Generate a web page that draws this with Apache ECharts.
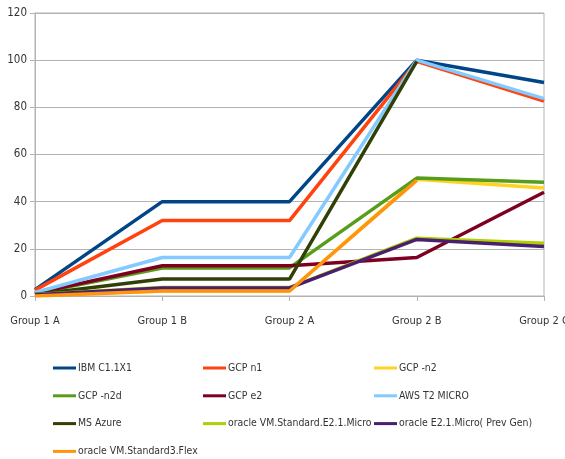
<!DOCTYPE html>
<html>
<head>
<meta charset="utf-8">
<script src="https://cdn.jsdelivr.net/npm/echarts@6/dist/echarts.min.js"></script>
<style>
  html, body { margin: 0; padding: 0; background: #fff; }
  #chart { width: 565px; height: 459px; }
</style>
</head>
<body>
<div id="chart"></div>
<script>
const categories = ['Group 1 A', 'Group 1 B', 'Group 2 A', 'Group 2 B', 'Group 2 C'];

const ibm       = [2.7, 40, 40, 100, 90.5];
const gcpN1     = [2.5, 32, 32, 99.5, 82.7];
const gcpN2     = [0.3, 2.1, 2.1, 49.5, 45.8];
const gcpN2d    = [1, 11.9, 11.9, 50, 48.2];
const gcpE2     = [1.2, 12.8, 12.8, 16.3, 44];
const awsT2     = [1.5, 16.3, 16.3, 100, 83.7];
const msAzure   = [0.6, 7.2, 7.2, 99.5, null];
const oracleE21 = [0.6, 3.6, 3.6, 24.5, 22.4];
const oraclePrev = [0.5, 3.4, 3.4, 24, 21];
const oracleFlex = [0, 2.1, 2.1, 49, null];

const seriesDefs = [
  ['IBM C1.1X1', ibm, '#004586'],
  ['GCP n1', gcpN1, '#ff420e'],
  ['GCP -n2', gcpN2, '#ffd320'],
  ['GCP -n2d', gcpN2d, '#579d1c'],
  ['GCP e2', gcpE2, '#7e0021'],
  ['AWS T2 MICRO', awsT2, '#83caff'],
  ['MS Azure', msAzure, '#314004'],
  ['oracle VM.Standard.E2.1.Micro', oracleE21, '#aecf00'],
  ['oracle E2.1.Micro( Prev Gen)', oraclePrev, '#4b1f6f'],
  ['oracle VM.Standard3.Flex', oracleFlex, '#ff950e']
];

const legendCols = [
  ['IBM C1.1X1', 'GCP -n2d', 'MS Azure', 'oracle VM.Standard3.Flex'],
  ['GCP n1', 'GCP e2', 'oracle VM.Standard.E2.1.Micro'],
  ['GCP -n2', 'AWS T2 MICRO', 'oracle E2.1.Micro( Prev Gen)']
];
const legendLeft = [53, 203, 374];

const font = '"Liberation Sans Narrow", "DejaVu Sans Condensed", "Liberation Sans", sans-serif';

const chart = echarts.init(document.getElementById('chart'));

chart.setOption({
  animation: false,
  color: seriesDefs.map(d => d[2]),
  grid: {
    left: 35, right: 21, top: 13, bottom: 163,
    outerBoundsMode: 'none',
    containLabel: false,
    show: true, borderColor: '#b3b3b3', borderWidth: 1
  },
  legend: legendCols.map((col, i) => ({
    data: col,
    orient: 'vertical',
    left: legendLeft[i],
    top: 363,
    height: 110,
    padding: 0,
    icon: 'rect',
    itemWidth: 23,
    itemHeight: 3,
    itemGap: 17.8,
    textStyle: { fontFamily: font, fontSize: 10.4, color: '#333', padding: [0, 0, 0, -3] }
  })),
  xAxis: {
    type: 'category',
    data: categories,
    boundaryGap: false,
    axisLine: { lineStyle: { color: '#b3b3b3' } },
    axisTick: { alignWithLabel: true, length: 5, lineStyle: { color: '#b3b3b3' } },
    axisLabel: { color: '#333', fontFamily: font, fontSize: 11, margin: 20 }
  },
  yAxis: {
    type: 'value',
    min: 0, max: 120, interval: 20,
    axisLine: { show: true, lineStyle: { color: '#b3b3b3' } },
    axisTick: { show: true, length: 5, lineStyle: { color: '#b3b3b3' } },
    axisLabel: { color: '#333', fontFamily: font, fontSize: 11.5, margin: 8 },
    splitLine: { lineStyle: { color: '#b3b3b3' } }
  },
  series: seriesDefs.map(d => ({
    name: d[0],
    type: 'line',
    data: d[1],
    symbol: 'none',
    lineStyle: { width: 3.5, color: d[2] },
    itemStyle: { color: d[2] }
  }))
});
</script>
</body>
</html>
